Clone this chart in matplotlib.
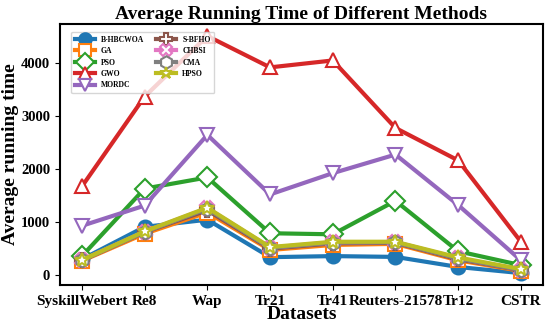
import numpy as np
import matplotlib.pyplot as plt

plt.rcParams['font.family'] = 'Liberation Serif'
plt.rcParams['font.weight'] = 'bold'

datasets = ['SyskillWebert', 'Re8', 'Wap', 'Tr21', 'Tr41', 'Reuters-21578', 'Tr12', 'CSTR']

b_hbcwoa = [300, 910, 1045, 340, 360, 345, 155, 40]
ga = [270, 780, 1180, 475, 570, 590, 280, 80]
pso = [360, 1630, 1840, 790, 770, 1400, 450, 190]
gwo = [1670, 3360, 4500, 3910, 4040, 2770, 2160, 630]
mordc = [930, 1310, 2640, 1520, 1920, 2270, 1320, 280]
s_bfho = [280, 810, 1220, 500, 600, 610, 300, 95]
chbsi = [285, 820, 1260, 520, 620, 625, 320, 105]
cma = [280, 815, 1250, 515, 615, 620, 315, 100]
hpso = [285, 825, 1270, 530, 630, 630, 335, 115]

series = [
    ('B-HBCWOA', b_hbcwoa, 'o'),
    ('GA', ga, 's'),
    ('PSO', pso, 'D'),
    ('GWO', gwo, '^'),
    ('MORDC', mordc, 'v'),
    ('S-BFHO', s_bfho, 'P'),
    ('CHBSI', chbsi, 'X'),
    ('CMA', cma, 'h'),
    ('HPSO', hpso, '*'),
]

fig = plt.figure(figsize=(5.5, 3.22), dpi=100)
ax = fig.add_axes([0.109, 0.115, 0.878, 0.81])

x = np.arange(len(datasets))
colors = plt.rcParams['axes.prop_cycle'].by_key()['color']
for i, (name, vals, mk) in enumerate(series):
    c = colors[i]
    face = c if name == 'B-HBCWOA' else 'white'
    ax.plot(x, vals, marker=mk, color=c, lw=3, ms=10, mfc=face, mec=c,
            mew=1.5, label=name)

ax.set_xticks(x)
ax.set_xticklabels(datasets, fontsize=11, fontweight='bold')
ax.set_yticks([0, 1000, 2000, 3000, 4000])
ax.tick_params(axis='y', labelsize=10.5)
for lab in ax.get_yticklabels():
    lab.set_fontweight('bold')
for s in ax.spines.values():
    s.set_linewidth(1.5)

ax.set_title('Average Running Time of Different Methods', fontsize=14, fontweight='bold', pad=4)
ax.set_xlabel('Datasets', fontsize=14, fontweight='bold', labelpad=-1)
ax.set_ylabel('Average running time', fontsize=14, fontweight='bold')
ax.yaxis.set_label_coords(-0.084, 0.5)

ax.legend(loc='upper left', ncol=2, prop={'size': 5.5, 'weight': 'bold'},
          markerscale=0.9, handlelength=2.6, columnspacing=1.6, labelspacing=0.45,
          borderpad=0.5, bbox_to_anchor=(0.015, 0.985))

fig.savefig('out.png', dpi=100)
